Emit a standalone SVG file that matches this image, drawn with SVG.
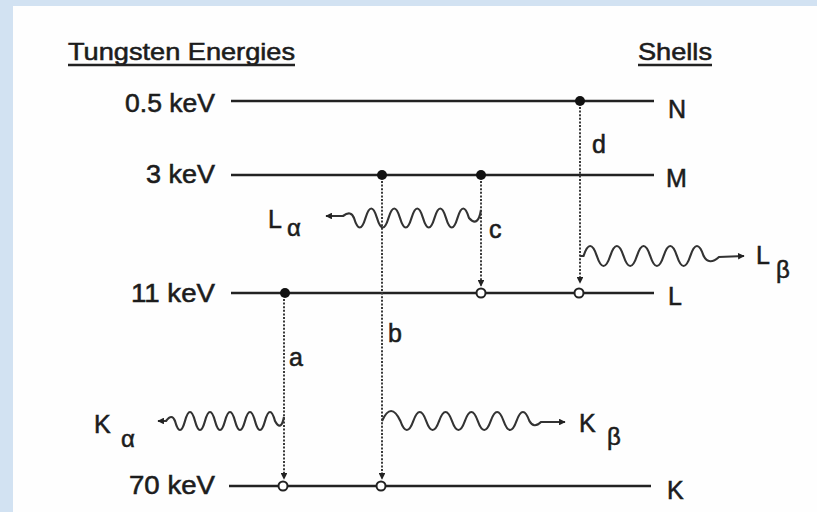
<svg xmlns="http://www.w3.org/2000/svg" width="817" height="512" viewBox="0 0 817 512">
<defs>
<style>
.t{font-family:"Liberation Sans",Arial,Helvetica,sans-serif;fill:#1c1c1c;stroke:#1c1c1c;stroke-width:0.55;font-size:25px}
.h{font-size:24px}
.sub{font-size:24px}
.lvl{stroke:#222;stroke-width:2.6;fill:none}
.jump{stroke:#3a3a3a;stroke-width:2;stroke-dasharray:2 1.6;fill:none}
.wave{stroke:#333;stroke-width:2.2;fill:none}
.full{fill:#111}
.hole{fill:#fff;stroke:#222;stroke-width:2}
.ul{stroke:#222;stroke-width:2.4}
</style>
<marker id="ah" viewBox="0 0 10 10" refX="9" refY="5" markerWidth="3.4" markerHeight="3.4" orient="auto" markerUnits="strokeWidth">
<path d="M0,0 L10,5 L0,10 z" fill="#222"/>
</marker>
<marker id="ahw" viewBox="0 0 10 10" refX="9" refY="5" markerWidth="3.5" markerHeight="3" orient="auto" markerUnits="strokeWidth">
<path d="M0,0 L10,5 L0,10 z" fill="#222"/>
</marker>
</defs>
<rect width="817" height="512" fill="#d2e2f2"/>
<rect x="13" y="6" width="804" height="506" fill="#fefefe"/>

<g id="headers">
<text class="t h" x="68" y="60" textLength="227" lengthAdjust="spacingAndGlyphs">Tungsten Energies</text>
<line class="ul" x1="68" y1="65" x2="295" y2="65"/>
<text class="t h" x="638" y="60" textLength="74" lengthAdjust="spacingAndGlyphs">Shells</text>
<line class="ul" x1="638" y1="65" x2="712" y2="65"/>
</g>

<g id="shell-N">
<text class="t" x="215" y="112" text-anchor="end" textLength="90" lengthAdjust="spacingAndGlyphs">0.5 keV</text>
<line class="lvl" x1="231" y1="101" x2="654" y2="101"/>
<text class="t" x="668" y="118">N</text>
<circle class="full" cx="580" cy="101" r="5"/>
</g>

<g id="shell-M">
<text class="t" x="215" y="183" text-anchor="end" textLength="69" lengthAdjust="spacingAndGlyphs">3 keV</text>
<line class="lvl" x1="231" y1="175" x2="654" y2="175"/>
<text class="t" x="666" y="187">M</text>
<circle class="full" cx="382" cy="175" r="5"/>
<circle class="full" cx="481" cy="175" r="5"/>
</g>

<g id="shell-L">
<text class="t" x="215" y="302" text-anchor="end" textLength="84" lengthAdjust="spacingAndGlyphs">11 keV</text>
<line class="lvl" x1="231" y1="293" x2="654" y2="293"/>
<text class="t" x="668" y="305">L</text>
<circle class="full" cx="285" cy="293" r="5"/>
<circle class="hole" cx="481" cy="293" r="4.5"/>
<circle class="hole" cx="579" cy="293" r="4.5"/>
</g>

<g id="shell-K">
<text class="t" x="215" y="494" text-anchor="end" textLength="86" lengthAdjust="spacingAndGlyphs">70 keV</text>
<line class="lvl" x1="229" y1="486" x2="651" y2="486"/>
<text class="t" x="667" y="499">K</text>
<circle class="hole" cx="283" cy="486" r="4.5"/>
<circle class="hole" cx="381" cy="486" r="4.5"/>
</g>

<g id="connectors">
<path class="jump" d="M580,107 L580,283" marker-end="url(#ah)"/>
<path class="jump" d="M481,181 L481,286" marker-end="url(#ah)"/>
<path class="jump" d="M382,181 L382,479" marker-end="url(#ah)"/>
<path class="jump" d="M284,299 L284,479" marker-end="url(#ah)"/>

<path class="wave" d="M481,210 Q478,228 469,218 q-5.75,-19 -11.5,0 t-11.5,0 t-11.5,0 t-11.5,0 t-11.5,0 t-11.5,0 t-11.5,0 t-11.5,0 t-11.5,0 t-11.5,0 Q351,210 343,216 L326,216" marker-end="url(#ahw)"/>
<path class="wave" d="M581,256 Q580,256 583.5,256 q6.675,-20 13.35,0 t13.35,0 t13.35,0 t13.35,0 t13.35,0 t13.35,0 t13.35,0 t13.35,0 t13.35,0 Q709,266 719,257 L744,256" marker-end="url(#ahw)"/>
<path class="wave" d="M284,417 Q281,432 275,421 q-5,-18 -10,0 t-10,0 t-10,0 t-10,0 t-10,0 t-10,0 t-10,0 t-10,0 t-10,0 t-10,0 Q172,413 166,421 L158,421" marker-end="url(#ahw)"/>
<path class="wave" d="M382,421 Q391,401 400.4,421 q6.45,18 12.9,0 t12.9,0 t12.9,0 t12.9,0 t12.9,0 t12.9,0 t12.9,0 t12.9,0 t12.9,0 t12.9,0 Q534,429 541,422 L565,422" marker-end="url(#ahw)"/>
</g>

<g id="labels">
<text class="t" x="592" y="153">d</text>
<text class="t" x="489" y="238">c</text>
<text class="t" x="388" y="342">b</text>
<text class="t" x="289" y="366">a</text>
<text class="t" x="268" y="228">L</text>
<text class="t sub" x="287" y="236">α</text>
<text class="t" x="756" y="264">L</text>
<text class="t sub" x="776" y="278">β</text>
<text class="t" x="94" y="433">K</text>
<text class="t sub" x="121" y="447">α</text>
<text class="t" x="579" y="432">K</text>
<text class="t sub" x="607" y="445">β</text>
</g>
</svg>
